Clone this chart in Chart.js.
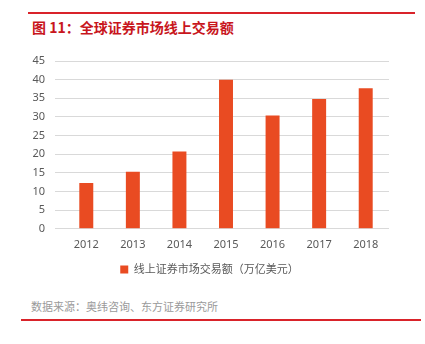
<!DOCTYPE html>
<html>
<head>
<meta charset="utf-8">
<script src="https://cdn.jsdelivr.net/npm/chart.js@4"></script>
<style>
    body { margin: 0; background: #fff; width: 425px; height: 344px; position: relative; overflow: hidden; font-family: "Noto Sans CJK SC", sans-serif; }
    .rule { position: absolute; height: 2px; background: #d9232a; }
    #title { position: absolute; left: 32px; top: 17px; font-size: 14px; font-weight: bold; color: #c8161d; white-space: nowrap; }
    #source { position: absolute; left: 31px; top: 298px; font-size: 11px; color: #9a9a9a; white-space: nowrap; }
    #wrap { position: absolute; left: 0; top: 40px; width: 425px; height: 250px; }
</style>
</head>
<body>
<div class="rule" style="left:28px; top:12px; width:387px;"></div>
<div id="title">图 11：全球证券市场线上交易额</div>
<div id="wrap"><canvas id="chart"></canvas></div>
<div id="source">数据来源：奥纬咨询、东方证券研究所</div>
<div class="rule" style="left:21px; top:319px; width:400px;"></div>

<script>
const years = ['2012', '2013', '2014', '2015', '2016', '2017', '2018'];
const amounts = [12.3, 15.3, 20.7, 40.0, 30.4, 34.8, 37.7];
const seriesName = '线上证券市场交易额（万亿美元）';

const font = { family: '"Noto Sans", "Noto Sans CJK SC"', size: 11 };

const ctx = document.getElementById('chart').getContext('2d');
new Chart(ctx, {
    type: 'bar',
    data: {
        labels: years,
        datasets: [{
            label: seriesName,
            data: amounts,
            backgroundColor: '#e94b22',
            barPercentage: 0.3,
            categoryPercentage: 1
        }]
    },
    options: {
        responsive: true,
        maintainAspectRatio: false,
        animation: false,
        layout: { padding: { left: 30, right: 36, top: 21, bottom: 5 } },
        plugins: {
            tooltip: { enabled: false },
            legend: {
                position: 'bottom',
                labels: { boxWidth: 8, boxHeight: 8, color: '#595959', font: font, padding: 12 }
            }
        },
        scales: {
            x: {
                grid: { display: false },
                border: { display: false },
                ticks: { color: '#595959', font: font, padding: 1 }
            },
            y: {
                min: 0,
                max: 45,
                afterFit: scale => { scale.width = 33; },
                grid: { color: '#d9d9d9', lineWidth: 1 },
                border: { display: false },
                ticks: { stepSize: 5, color: '#595959', font: font, padding: 10 }
            }
        }
    }
});
</script>
</body>
</html>
